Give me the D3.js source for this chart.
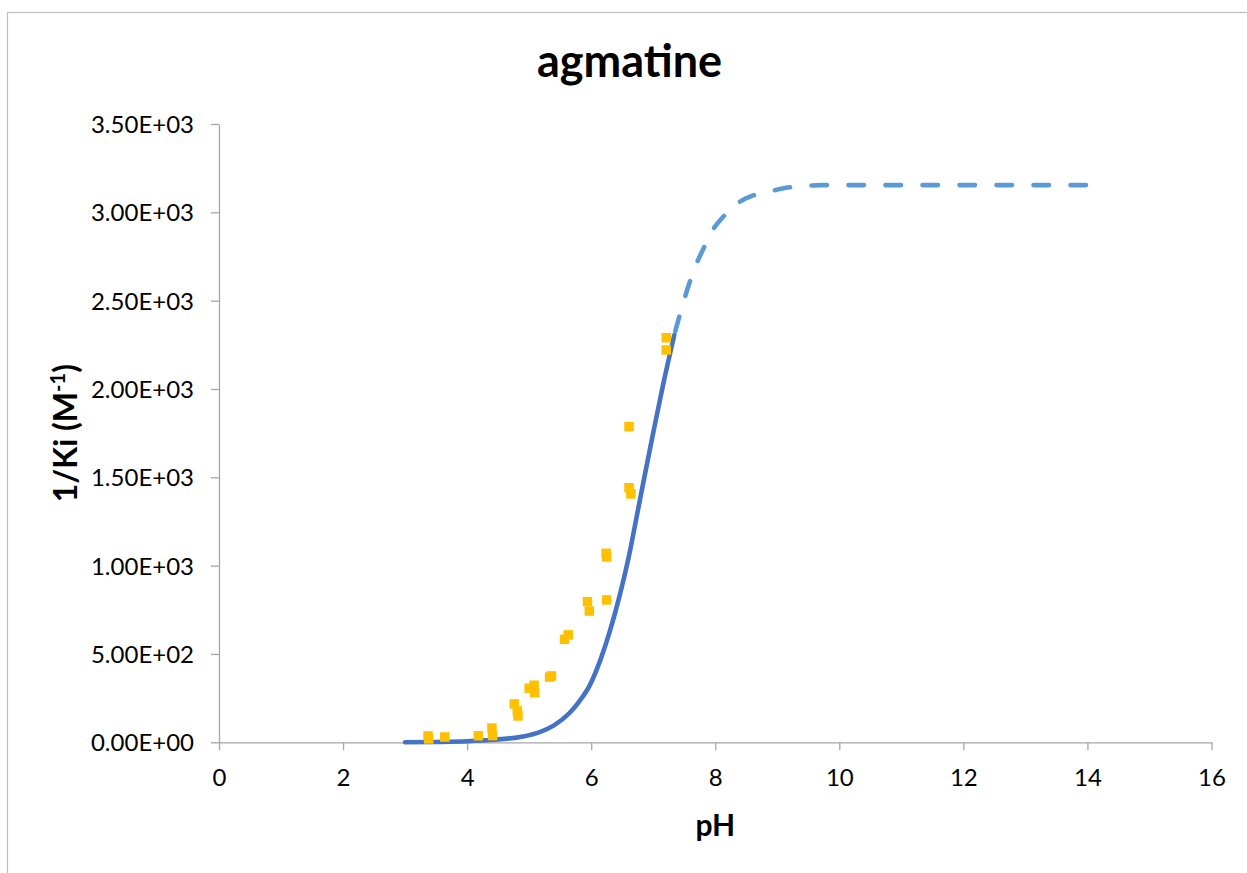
<!DOCTYPE html>
<html>
<head>
<meta charset="utf-8">
<script src="https://cdn.jsdelivr.net/npm/d3@7"></script>
<style>
  html, body { margin: 0; padding: 0; background: #fff; }
  svg { display: block; }
</style>
</head>
<body>
<svg id="chart" width="1247" height="873"></svg>
<script>
// ---- data ----
const titleText = "agmatine";
const xLabelText = "pH";
const xTickValues = [0, 2, 4, 6, 8, 10, 12, 14, 16];
const xTickLabels = ["0", "2", "4", "6", "8", "10", "12", "14", "16"];
const yTickValues = [0, 500, 1000, 1500, 2000, 2500, 3000, 3500];
const yTickLabels = ["0.00E+00", "5.00E+02", "1.00E+03", "1.50E+03", "2.00E+03", "2.50E+03", "3.00E+03", "3.50E+03"];

// measured points (pH, 1/Ki)
const pointsPH  = [3.37, 3.38, 3.64, 4.18, 4.40, 4.41, 4.76, 4.81, 4.82, 5.00, 5.08, 5.09, 5.33, 5.36, 5.57, 5.63, 5.94, 5.97, 6.25, 6.24, 6.25, 6.61, 6.64, 6.61, 7.21, 7.21];
const pointsVal = [36, 19, 30, 37, 81, 38, 217, 177, 149, 306, 323, 281, 369, 376, 583, 608, 796, 743, 806, 1070, 1049, 1441, 1406, 1787, 2290, 2221];

// fitted curve, solid part
const fitSolidPH  = [3.0, 3.5, 4.0, 4.4, 4.9, 5.17, 5.4, 5.65, 5.8, 5.97, 6.15, 6.30, 6.46, 6.60, 6.78, 6.99, 7.16, 7.34];
const fitSolidVal = [0, 2, 6, 14, 33, 58, 96, 166, 228, 318, 468, 628, 832, 1040, 1362, 1735, 2025, 2305];

// fitted curve, dashed (extrapolated) part
const fitDashPH  = [7.29, 7.42, 7.59, 7.70, 7.82, 7.96, 8.14, 8.36, 8.60, 8.87, 9.14, 9.45, 9.73, 11.0, 12.5, 14.0];
const fitDashVal = [2240, 2409, 2607, 2711, 2802, 2900, 2979, 3051, 3094, 3117, 3139, 3149, 3154, 3154, 3154, 3154];

// ---- drawing ----
const svg = d3.select("#chart");
const FONT = "Lato, 'Open Sans', 'Liberation Sans', sans-serif";
const axisColor = "#A6A6A6";

// outer chart border
svg.append("rect")
  .attr("x", 7.5).attr("y", 12.5)
  .attr("width", 1260).attr("height", 880)
  .attr("fill", "#fff")
  .attr("stroke", "#BDBDBD").attr("stroke-width", 1.2);

const x = d3.scaleLinear().domain([0, 16]).range([219, 1211.5]);
const y = d3.scaleLinear().domain([0, 3500]).range([742.3, 124]);

// y axis
const yAxis = svg.append("g")
  .attr("transform", `translate(${x(0)},0)`)
  .call(d3.axisLeft(y).tickValues(yTickValues)
    .tickFormat((d, i) => yTickLabels[i]).tickSize(8).tickSizeOuter(0).tickPadding(17));
yAxis.select(".domain").attr("stroke", axisColor).attr("stroke-width", 1.3);
yAxis.selectAll(".tick line").attr("stroke", axisColor).attr("stroke-width", 1.3);
yAxis.selectAll(".tick text")
  .attr("fill", "#000").attr("font-family", FONT).attr("font-size", 24)
  .attr("dy", "0.36em");

// x axis
const xAxis = svg.append("g")
  .attr("transform", `translate(0,${y(0)})`)
  .call(d3.axisBottom(x).tickValues(xTickValues)
    .tickFormat((d, i) => xTickLabels[i]).tickSize(8).tickSizeOuter(0).tickPadding(0));
xAxis.select(".domain").attr("stroke", axisColor).attr("stroke-width", 1.3);
xAxis.selectAll(".tick line").attr("stroke", axisColor).attr("stroke-width", 1.3);
xAxis.selectAll(".tick text")
  .attr("fill", "#000").attr("font-family", FONT).attr("font-size", 24)
  .attr("y", 0).attr("dy", 0)
  .attr("transform", "translate(0,43.5)");

// curves
const line = d3.line().x(d => x(d[0])).y(d => y(d[1])).curve(d3.curveMonotoneX);

// dashed curve: dash pattern anchored at the pH 14 end
const dashPath = svg.append("path")
  .datum(fitDashPH.map((p, i) => [p, fitDashVal[i]]))
  .attr("d", line)
  .attr("fill", "none")
  .attr("stroke", "#5B9BD5")
  .attr("stroke-width", 4.6)
  .attr("stroke-linecap", "round")
  .attr("stroke-dasharray", "15.5,21.5");
const L = dashPath.node().getTotalLength();
const period = 37;
dashPath.attr("stroke-dashoffset", -(((L - 15.5) % period) - 1.5));

svg.append("path")
  .datum(fitSolidPH.map((p, i) => [p, fitSolidVal[i]]))
  .attr("d", line)
  .attr("fill", "none")
  .attr("stroke", "#4472C4")
  .attr("stroke-width", 4.6)
  .attr("stroke-linecap", "round");

// points
const S = 9.5;
svg.append("g").selectAll("rect")
  .data(pointsPH.map((p, i) => [p, pointsVal[i]]))
  .join("rect")
  .attr("x", d => x(d[0]) - S / 2)
  .attr("y", d => y(d[1]) - S / 2)
  .attr("width", S).attr("height", S)
  .attr("fill", "#FFC000");

// title
svg.append("text")
  .attr("x", 629.5).attr("y", 76.7)
  .attr("text-anchor", "middle")
  .attr("font-family", FONT).attr("font-weight", "bold").attr("font-size", 45)
  .attr("fill", "#000")
  .text(titleText);

// x label
svg.append("text")
  .attr("x", (x(0) + x(16)) / 2).attr("y", 836)
  .attr("text-anchor", "middle")
  .attr("font-family", FONT).attr("font-weight", "bold").attr("font-size", 30)
  .attr("fill", "#000")
  .text(xLabelText);

// y label
const yl = svg.append("text")
  .attr("transform", `translate(77,${(y(0) + y(3500)) / 2}) rotate(-90)`)
  .attr("text-anchor", "middle")
  .attr("font-family", FONT).attr("font-weight", "bold").attr("font-size", 32)
  .attr("fill", "#000");
yl.append("tspan").text("1/Ki (M");
yl.append("tspan").attr("font-size", 20).attr("dy", -12).text("-1");
yl.append("tspan").attr("dy", 12).text(")");
</script>
</body>
</html>
